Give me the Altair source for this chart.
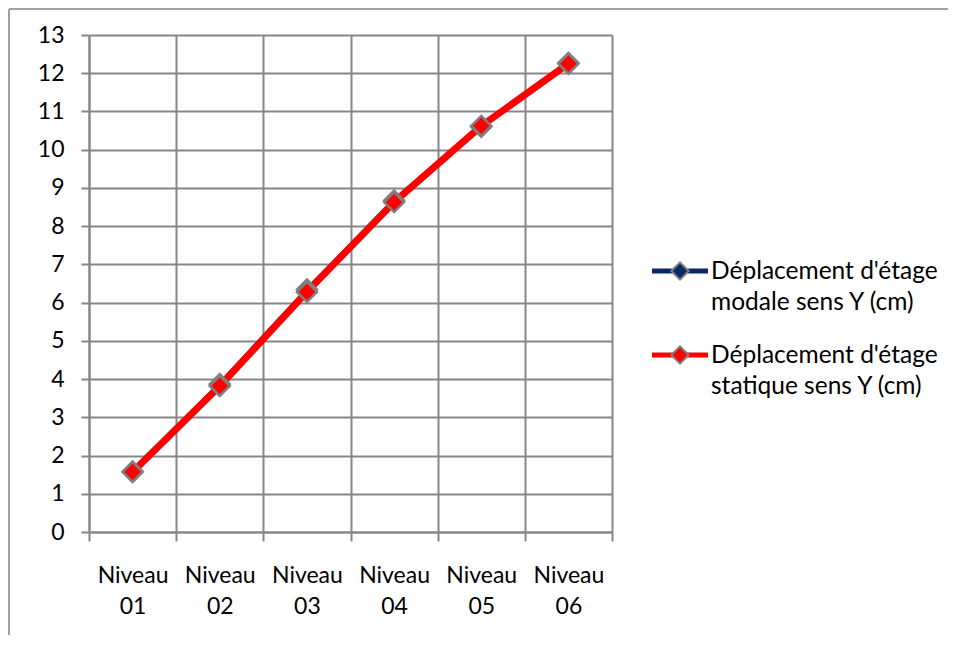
import altair as alt
import pandas as pd

niveaux = ["Niveau 01", "Niveau 02", "Niveau 03", "Niveau 04", "Niveau 05", "Niveau 06"]
modale = [1.58, 3.87, 6.34, 8.67, 10.60, 12.27]
statique = [1.57, 3.82, 6.28, 8.63, 10.62, 12.25]
series_names = ["Déplacement d'étage|modale sens Y (cm)", "Déplacement d'étage|statique sens Y (cm)"]
colors = ["#0A2A66", "#FF0000"]
y_ticks = list(range(0, 14))

rows = []
for i, n in enumerate(niveaux):
    rows.append({"niveau": n, "val": modale[i], "serie": series_names[0]})
    rows.append({"niveau": n, "val": statique[i], "serie": series_names[1]})
df = pd.DataFrame(rows)

FONT = "Lato"
GRID = "#878787"
color_scale = alt.Scale(domain=series_names, range=colors)

x_enc = alt.X("niveau:N", sort=niveaux, title=None,
              scale=alt.Scale(paddingInner=0, paddingOuter=0),
              axis=alt.Axis(labelAngle=0, tickBand="extent", labelExpr="split(datum.label, ' ')",
                            labelLineHeight=31, labelPadding=23, tickSize=9,
                            grid=True, gridColor=GRID, gridWidth=2,
                            domainColor=GRID, domainWidth=2, tickColor=GRID, tickWidth=2,
                            labelFontSize=23, labelFont=FONT, labelColor="#000000"))
y_enc = alt.Y("val:Q", title=None,
              scale=alt.Scale(domain=[0, 13], nice=False),
              axis=alt.Axis(values=y_ticks, grid=True, gridColor=GRID, gridWidth=2,
                            domainColor=GRID, domainWidth=2, tickColor=GRID, tickWidth=2,
                            tickSize=8, labelPadding=17, labelFontSize=23, labelFont=FONT,
                            labelColor="#000000"))

line_modale = alt.Chart(df[df.serie == series_names[0]]).mark_line(strokeWidth=4, color=colors[0]).encode(
    x=x_enc, y=y_enc)
line_stat = alt.Chart(df[df.serie == series_names[1]]).mark_line(strokeWidth=7, color=colors[1]).encode(
    x=x_enc, y=y_enc)
points = alt.Chart(df).mark_point(shape="diamond", filled=True, size=400, opacity=1,
                                  stroke="#7F7F7F", strokeWidth=2.5).encode(
    x=x_enc, y=y_enc, color=alt.Color("serie:N", scale=color_scale, legend=None),
)

one = pd.DataFrame({"a": [0]})
frame_left = alt.Chart(one).mark_rule(color="#A0A0A0", strokeWidth=2).encode(
    x=alt.value(-80), y=alt.value(-26), y2=alt.value(600))
frame_top = alt.Chart(one).mark_rule(color="#A0A0A0", strokeWidth=2).encode(
    x=alt.value(-80), x2=alt.value(860), y=alt.value(-26))

legend_layers = []
for i, (name, col) in enumerate(zip(series_names, colors)):
    ly = 236 + i * 84
    ldf = pd.DataFrame({"serie": [name]})
    legend_layers.append(alt.Chart(ldf).mark_rule(color=col, strokeWidth=5).encode(
        x=alt.value(563), x2=alt.value(619), y=alt.value(ly)))
    legend_layers.append(alt.Chart(ldf).mark_point(shape="diamond", filled=True, size=300, opacity=1,
                                                   fill=col, stroke="#7F7F7F", strokeWidth=2).encode(
        x=alt.value(591), y=alt.value(ly)))
    legend_layers.append(alt.Chart(ldf).mark_text(align="left", baseline="middle", font=FONT, fontSize=24.5,
                                                  lineBreak="|", lineHeight=31, color="#000000").encode(
        x=alt.value(622), y=alt.value(ly + 1), text="serie:N"))

chart = alt.layer(frame_left, frame_top, line_modale, line_stat, points, *legend_layers).properties(
    width=523, height=497,
    autosize=alt.AutoSizeParams(type="none"),
    padding={"left": 81, "top": 27, "right": 336, "bottom": 105},
).configure_view(stroke=GRID, strokeWidth=2).configure(background="white")

chart.save("out.html", embed_options={"renderer": "svg", "actions": False})
